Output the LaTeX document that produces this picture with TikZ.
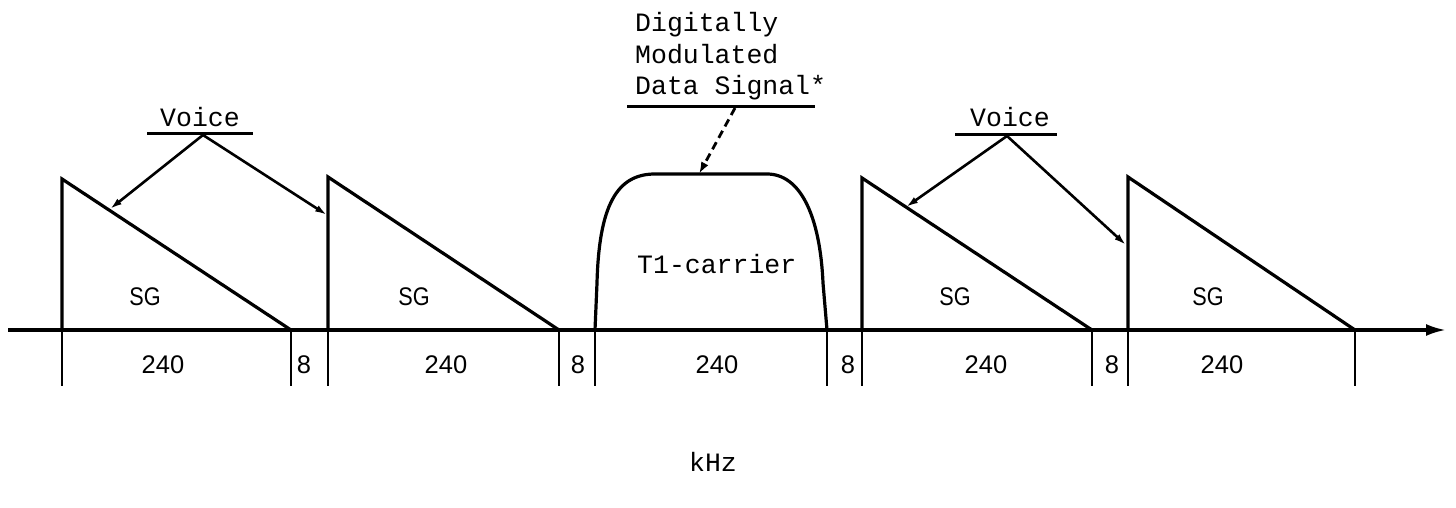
\documentclass[tikz,border=0pt]{standalone}
\usepackage{fontspec}
\setmainfont{Liberation Sans}
\newfontfamily\twfont{Liberation Mono}
\usetikzlibrary{arrows.meta}
\begin{document}
\begin{tikzpicture}[x=1pt,y=-1pt,
  shapeline/.style={line width=3.2pt, line join=miter, line cap=round},
  tickline/.style={line width=2.4pt},
  underline/.style={line width=3pt},
  voicearrow/.style={line width=2.6pt,-{Latex[length=12pt,width=7pt]}},
  dataarrow/.style={line width=2.8pt,dash pattern=on 8pt off 5pt,-{Latex[length=12pt,width=8pt]}},
  axisline/.style={line width=3.2pt,-{Latex[length=20pt,width=12pt]}},
  twtext/.style={font=\twfont\fontsize{26.5}{31.5}\selectfont, inner sep=0pt},
  sftext/.style={font=\fontsize{25.5}{30}\selectfont, inner sep=0pt},
  sglabel/.style={font=\fontsize{25.5}{30}\selectfont, inner sep=0pt, xscale=0.85}]
\useasboundingbox (0,0) rectangle (1456,508);

% axis
\coordinate (axL) at (8,330);
\coordinate (axR) at (1446,330);
\draw[axisline] (axL) -- (axR);

% sideband triangles
\draw[shapeline] (62,330) -- (62,179) -- (291,330);
\draw[shapeline] (328,330) -- (328,177) -- (559,330);
\draw[shapeline] (862,330) -- (862,178) -- (1092,330);
\draw[shapeline] (1128,330) -- (1128,177) -- (1355,330);

% T1 carrier band
\draw[shapeline] (595,330) -- (597,283) .. controls (599,205) and (617,174) .. (655,174)
  -- (767,174) .. controls (800,174) and (820,215) .. (823,283) -- (827,330);

% ticks
\foreach \x in {62,291,328,559,595,827,862,1092,1128,1355}
  \draw[tickline] (\x,330) -- (\x,386);

% labels
\node[sglabel] (sg1) at (145,297) {SG};
\node[sglabel] (sg2) at (414,297) {SG};
\node[sglabel] (sg3) at (955,297) {SG};
\node[sglabel] (sg4) at (1208,297) {SG};
\node[twtext, anchor=base west] (t1) at (637,273) {T1-carrier};

\node[sftext] (w1) at (163,365) {240};
\node[sftext] (w2) at (446,365) {240};
\node[sftext] (w3) at (717,365) {240};
\node[sftext] (w4) at (986,365) {240};
\node[sftext] (w5) at (1222,365) {240};
\node[sftext] (g1) at (304,365) {8};
\node[sftext] (g2) at (578,365) {8};
\node[sftext] (g3) at (848,365) {8};
\node[sftext] (g4) at (1112,365) {8};

\node[twtext] (khz) at (713,462) {kHz};

% Voice labels (left)
\node[twtext, anchor=base west] (voiceL) at (160,127) {Voice};
\draw[underline] (147,134) -- (253,134);
\coordinate (vL) at (203,135);
\coordinate (tipL1) at (110,209);
\coordinate (tipL2) at (327,215);
\draw[voicearrow] (vL) -- (tipL1);
\draw[voicearrow] (vL) -- (tipL2);

% Voice labels (right)
\node[twtext, anchor=base west] (voiceR) at (970,127) {Voice};
\draw[underline] (955,135) -- (1057,135);
\coordinate (vR) at (1007,136);
\coordinate (tipR1) at (906,207);
\coordinate (tipR2) at (1126,245);
\draw[voicearrow] (vR) -- (tipR1);
\draw[voicearrow] (vR) -- (tipR2);

% data signal label
\node[twtext, anchor=base west] (d1) at (635,32) {Digitally};
\node[twtext, anchor=base west] (d2) at (635,64) {Modulated};
\node[twtext, anchor=base west] (d3) at (635,95) {Data Signal*};
\draw[underline] (627,107) -- (815,107);
\coordinate (dS) at (735,108);
\coordinate (dT) at (699,174);
\draw[dataarrow] (dS) -- (dT);
\end{tikzpicture}
\end{document}
